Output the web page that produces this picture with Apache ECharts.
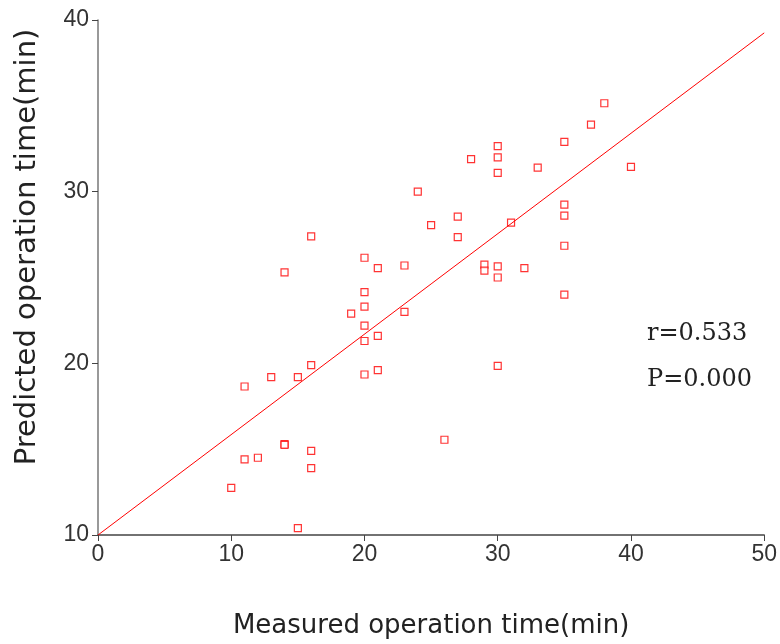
<!DOCTYPE html>
<html lang="en">
<head>
    <meta charset='utf-8' />
    <title>operation time</title>
    <script src="https://cdn.jsdelivr.net/npm/echarts@6.0.0/dist/echarts.min.js"></script>
    <style>
        html, body { margin: 0; padding: 0; background: #fff; }
        #chart { width: 780px; height: 644px; }
    </style>
</head>
<body>
<div id="chart"></div>
<script>
    // measured (x) vs predicted (y) operation time
    var measured = [10, 11, 11, 12, 13, 14, 14, 14, 15, 15,
                    16, 16, 16, 16, 19, 20, 20, 20, 20, 20,
                    20, 21, 21, 21, 23, 23, 24, 25, 26, 27,
                    27, 28, 29, 29, 30, 30, 30, 30, 30, 30,
                    31, 32, 33, 35, 35, 35, 35, 35, 37, 38, 40];
    var predicted = [12.75, 18.65, 14.4, 14.5, 19.2, 25.3, 15.3, 15.25, 19.2, 10.4,
                     27.4, 19.9, 14.9, 13.9, 22.9, 26.15, 24.15, 23.3, 22.2, 21.3,
                     19.35, 25.55, 21.6, 19.6, 25.7, 23.0, 30.0, 28.05, 15.55, 28.55,
                     27.35, 31.9, 25.75, 25.4, 32.65, 32.0, 31.1, 25.65, 25.0, 19.85,
                     28.2, 25.55, 31.4, 32.9, 29.25, 28.6, 26.85, 24.0, 33.9, 35.15, 31.45];
    // fitted line end points
    var fitX = [0, 50];
    var fitY = [10, 39.25];
    var statsText = ['r=0.533', 'P=0.000'];

    var points = measured.map(function (m, i) { return [m, predicted[i]]; });
    var fitLine = fitX.map(function (x, i) { return [x, fitY[i]]; });

    var chartDom = document.getElementById('chart');
    var myChart = echarts.init(chartDom);

    var axisText = { color: '#333', fontSize: 23, fontFamily: 'Liberation Sans' };

    var option = {
        animation: false,
        grid: { left: 98, right: 13, top: 20, bottom: 107 },
        xAxis: {
            type: 'value',
            min: 0, max: 50, interval: 10,
            name: 'Measured operation time(min)',
            nameLocation: 'middle',
            nameGap: 78,
            nameTextStyle: { color: '#222', fontSize: 26, fontFamily: 'DejaVu Sans' },
            splitLine: { show: false },
            axisLine: { lineStyle: { color: '#444', width: 1.5 } },
            axisTick: { length: 6, lineStyle: { color: '#444' } },
            axisLabel: Object.assign({ margin: 8 }, axisText)
        },
        yAxis: {
            type: 'value',
            min: 10, max: 40, interval: 10,
            splitLine: { show: false },
            axisLine: { show: true, lineStyle: { color: '#777', width: 1.5 } },
            axisTick: { show: true, length: 6, lineStyle: { color: '#444' } },
            axisLabel: Object.assign({ margin: 9 }, axisText)
        },
        graphic: [
            {
                type: 'text',
                x: 27, y: 247,
                rotation: Math.PI / 2,
                style: {
                    text: 'Predicted operation time(min)',
                    fill: '#222',
                    font: '29px "DejaVu Sans"',
                    align: 'center',
                    verticalAlign: 'middle'
                }
            },
            {
                type: 'text',
                left: 647, top: 322,
                style: { text: statsText[0], fill: '#222', font: '24px "DejaVu Serif"' }
            },
            {
                type: 'text',
                left: 647, top: 368,
                style: { text: statsText[1], fill: '#222', font: '24px "DejaVu Serif"' }
            }
        ],
        series: [
            {
                type: 'line',
                data: fitLine,
                symbol: 'none',
                lineStyle: { color: '#ff0000', width: 1 },
                silent: true
            },
            {
                type: 'scatter',
                data: points,
                symbol: 'rect',
                symbolSize: 7,
                itemStyle: { color: '#ffffff', borderColor: '#ff0000', borderWidth: 1.2 }
            }
        ]
    };

    option && myChart.setOption(option);
</script>
</body>
</html>
